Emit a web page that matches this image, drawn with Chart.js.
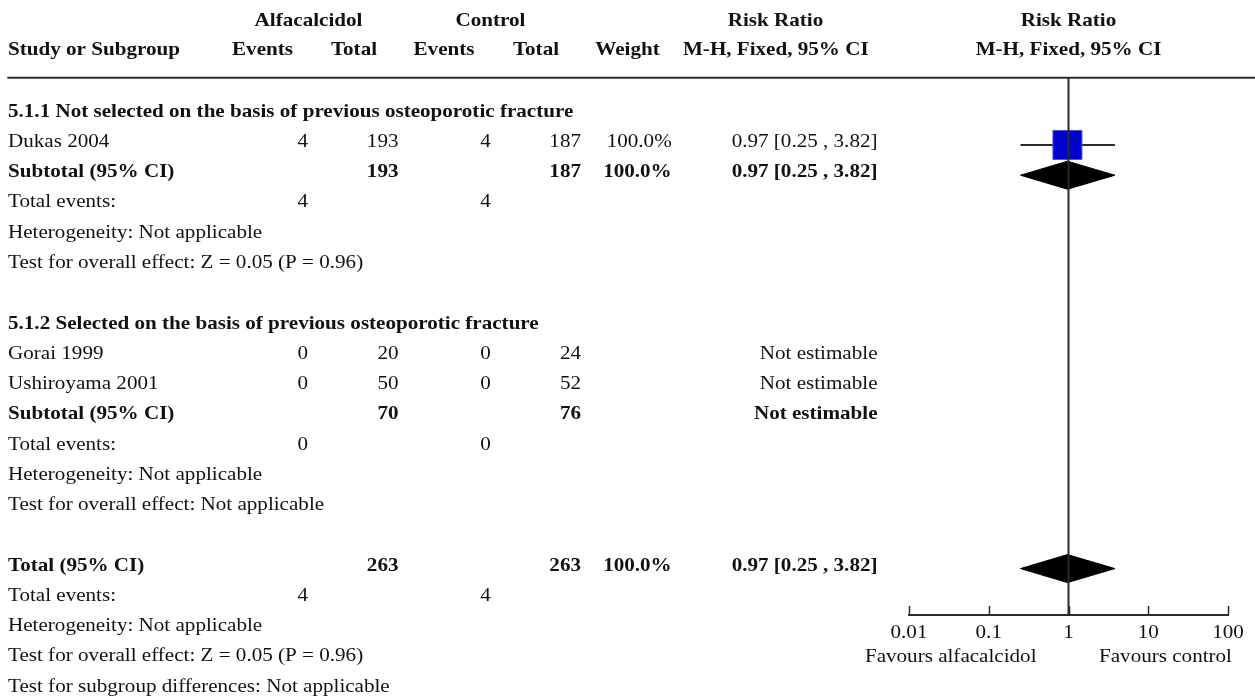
<!DOCTYPE html>
<html>
<head>
<meta charset="utf-8">
<script src="https://cdn.jsdelivr.net/npm/chart.js@4.4.1/dist/chart.umd.min.js"></script>
<style>
  html, body { margin: 0; padding: 0; background: #fff; }
  canvas { display: block; }
</style>
</head>
<body>
<canvas id="forest" width="1255" height="699"></canvas>
<script>
// individual studies
const studies = ['Dukas 2004', 'Gorai 1999', 'Ushiroyama 2001'];
const studyRows = [1, 8, 9];
const alfaEvents = [4, 0, 0];
const alfaTotal = [193, 20, 50];
const ctrlEvents = [4, 0, 0];
const ctrlTotal = [187, 24, 52];
const studyWeight = ['100.0%', '', ''];
const studyRR = [0.97, null, null];
const studyLow = [0.25, null, null];
const studyHigh = [3.82, null, null];

// subtotals and total
const pooled = ['Subtotal (95% CI)', 'Subtotal (95% CI)', 'Total (95% CI)'];
const pooledRows = [2, 10, 15];
const pooledAlfaTotal = [193, 70, 263];
const pooledCtrlTotal = [187, 76, 263];
const pooledWeight = ['100.0%', '', '100.0%'];
const pooledRR = [0.97, null, 0.97];
const pooledLow = [0.25, null, 0.25];
const pooledHigh = [3.82, null, 3.82];

const groups = [
    '5.1.1 Not selected on the basis of previous osteoporotic fracture',
    '5.1.2 Selected on the basis of previous osteoporotic fracture'
];
const groupRows = [0, 7];

const eventRows = [3, 11, 16];
const eventsAlfa = [4, 0, 4];
const eventsCtrl = [4, 0, 4];

const notes = [
    'Heterogeneity: Not applicable',
    'Test for overall effect: Z = 0.05 (P = 0.96)',
    'Heterogeneity: Not applicable',
    'Test for overall effect: Not applicable',
    'Heterogeneity: Not applicable',
    'Test for overall effect: Z = 0.05 (P = 0.96)',
    'Test for subgroup differences: Not applicable'
];
const noteRows = [4, 5, 12, 13, 17, 18, 19];

const headTop = ['Alfacalcidol', 'Control', 'Risk Ratio', 'Risk Ratio'];
const headSub = ['Study or Subgroup', 'Events', 'Total', 'Events', 'Total', 'Weight', 'M-H, Fixed, 95% CI', 'M-H, Fixed, 95% CI'];
const xTicks = [0.01, 0.1, 1, 10, 100];
const favours = ['Favours alfacalcidol', 'Favours control'];

// layout
const W = 1255, H = 699;
const TOP = 77.7, BOTTOM = 615, ROW0 = 114.7, ROW_H = 30.26;
const Y_MIN = (TOP - ROW0) / ROW_H;
const Y_MAX = (BOTTOM - ROW0) / ROW_H;
const DIAMOND_H = 0.463;
const SX = 1.11;           // text in the picture is a little wider than normal
const FONT = '"Liberation Serif", "Times New Roman", serif';
const ink = '#111';
const lineCol = '#2b2b2b';
const colRight = [308, 398.5, 490.7, 581, 671.7, 877.5];
const headTopX = [308.5, 490.5, 775.5];
const headSubX = [262.5, 354, 444, 536, 627.5, 775.8];

function txt(ctx, s, x, y, align, bold) {
    ctx.save();
    ctx.font = (bold ? 'bold ' : '') + '19px ' + FONT;
    const w = ctx.measureText(s).width * SX;
    const x0 = align === 'right' ? x - w : align === 'center' ? x - w / 2 : x;
    ctx.translate(x0, y);
    ctx.scale(SX, 1);
    ctx.textAlign = 'left';
    ctx.textBaseline = 'alphabetic';
    ctx.fillStyle = ink;
    ctx.fillText(s, 0, 0);
    ctx.restore();
}

function ci(rr, lo, hi) {
    if (rr === null) return 'Not estimable';
    return `${rr.toFixed(2)} [${lo.toFixed(2)} , ${hi.toFixed(2)}]`;
}

const datasets = [];

// line of no effect
datasets.push({
    data: [{x: 1, y: Y_MIN}, {x: 1, y: Y_MAX}],
    borderColor: lineCol,
    borderWidth: 2,
    pointRadius: 0,
    order: 0
});

studies.forEach((s, i) => {
    if (studyRR[i] === null) return;
    datasets.push({
        data: [{x: studyLow[i], y: studyRows[i]}, {x: studyHigh[i], y: studyRows[i]}],
        borderColor: lineCol,
        borderWidth: 2,
        pointRadius: 0,
        order: 3
    });
    datasets.push({
        data: [{x: studyRR[i], y: studyRows[i]}],
        showLine: false,
        pointStyle: 'rect',
        pointRadius: 20.5,
        pointBackgroundColor: '#0000cc',
        pointBorderColor: '#4b4bf0',
        pointBorderWidth: 1,
        order: 2
    });
});

pooled.forEach((s, i) => {
    if (pooledRR[i] === null) return;
    const r = pooledRows[i];
    datasets.push({
        data: [
            {x: pooledLow[i], y: r},
            {x: pooledRR[i], y: r - DIAMOND_H},
            {x: pooledHigh[i], y: r},
            {x: pooledRR[i], y: r + DIAMOND_H},
            {x: pooledLow[i], y: r}
        ],
        borderColor: '#000',
        borderWidth: 1,
        backgroundColor: '#000',
        fill: 'shape',
        pointRadius: 0,
        order: 1
    });
});

const tablePlugin = {
    id: 'table',
    afterDraw(chart) {
        const ctx = chart.ctx;
        const xs = chart.scales.x;
        const ys = chart.scales.y;
        const base = r => ys.getPixelForValue(r) + 2;
        const mid = xs.getPixelForValue(1);

        // header
        headTop.forEach((t, i) => txt(ctx, t, i < 3 ? headTopX[i] : mid, 25.7, 'center', true));
        txt(ctx, headSub[0], 8, 55, 'left', true);
        headSub.slice(1).forEach((t, i) => txt(ctx, t, i < 6 ? headSubX[i] : mid, 55, 'center', true));
        ctx.save();
        ctx.strokeStyle = lineCol;
        ctx.lineWidth = 2;
        ctx.beginPath();
        ctx.moveTo(7.3, chart.chartArea.top);
        ctx.lineTo(W, chart.chartArea.top);
        ctx.stroke();
        ctx.restore();

        groups.forEach((g, i) => txt(ctx, g, 8, base(groupRows[i]), 'left', true));

        studies.forEach((s, i) => {
            const y = base(studyRows[i]);
            txt(ctx, s, 8, y, 'left', false);
            txt(ctx, String(alfaEvents[i]), colRight[0], y, 'right', false);
            txt(ctx, String(alfaTotal[i]), colRight[1], y, 'right', false);
            txt(ctx, String(ctrlEvents[i]), colRight[2], y, 'right', false);
            txt(ctx, String(ctrlTotal[i]), colRight[3], y, 'right', false);
            if (studyWeight[i]) txt(ctx, studyWeight[i], colRight[4], y, 'right', false);
            txt(ctx, ci(studyRR[i], studyLow[i], studyHigh[i]), colRight[5], y, 'right', false);
        });

        pooled.forEach((s, i) => {
            const y = base(pooledRows[i]);
            txt(ctx, s, 8, y, 'left', true);
            txt(ctx, String(pooledAlfaTotal[i]), colRight[1], y, 'right', true);
            txt(ctx, String(pooledCtrlTotal[i]), colRight[3], y, 'right', true);
            if (pooledWeight[i]) txt(ctx, pooledWeight[i], colRight[4], y, 'right', true);
            txt(ctx, ci(pooledRR[i], pooledLow[i], pooledHigh[i]), colRight[5], y, 'right', true);
        });

        eventRows.forEach((r, i) => {
            const y = base(r);
            txt(ctx, 'Total events:', 8, y, 'left', false);
            txt(ctx, String(eventsAlfa[i]), colRight[0], y, 'right', false);
            txt(ctx, String(eventsCtrl[i]), colRight[2], y, 'right', false);
        });

        notes.forEach((n, i) => txt(ctx, n, 8, base(noteRows[i]), 'left', false));

        // axis ticks and labels
        const yAxis = chart.chartArea.bottom;
        ctx.save();
        ctx.strokeStyle = lineCol;
        ctx.lineWidth = 1.5;
        xs.ticks.forEach(t => {
            const px = Math.round(xs.getPixelForValue(t.value)) + 0.5;
            ctx.beginPath();
            ctx.moveTo(px, yAxis - 9);
            ctx.lineTo(px, yAxis);
            ctx.stroke();
        });
        ctx.restore();
        xs.ticks.forEach(t => txt(ctx, String(t.value), xs.getPixelForValue(t.value), 638.3, 'center', false));
        txt(ctx, favours[0], mid - 32, 661.7, 'right', false);
        txt(ctx, favours[1], mid + 30.5, 661.7, 'left', false);
    }
};

new Chart(document.getElementById('forest'), {
    type: 'line',
    data: {datasets: datasets},
    options: {
        responsive: false,
        animation: false,
        layout: {
            padding: {left: 909, right: W - 1228, top: TOP, bottom: H - BOTTOM}
        },
        elements: {line: {tension: 0}},
        plugins: {
            legend: {display: false},
            tooltip: {enabled: false}
        },
        scales: {
            x: {
                type: 'logarithmic',
                min: 0.01,
                max: 100,
                afterBuildTicks: axis => {
                    axis.ticks = xTicks.map(v => ({value: v}));
                },
                grid: {display: false, drawTicks: false},
                border: {display: true, color: lineCol, width: 2},
                ticks: {display: false}
            },
            y: {
                type: 'linear',
                display: false,
                reverse: true,
                min: Y_MIN,
                max: Y_MAX
            }
        }
    },
    plugins: [tablePlugin]
});
</script>
</body>
</html>
